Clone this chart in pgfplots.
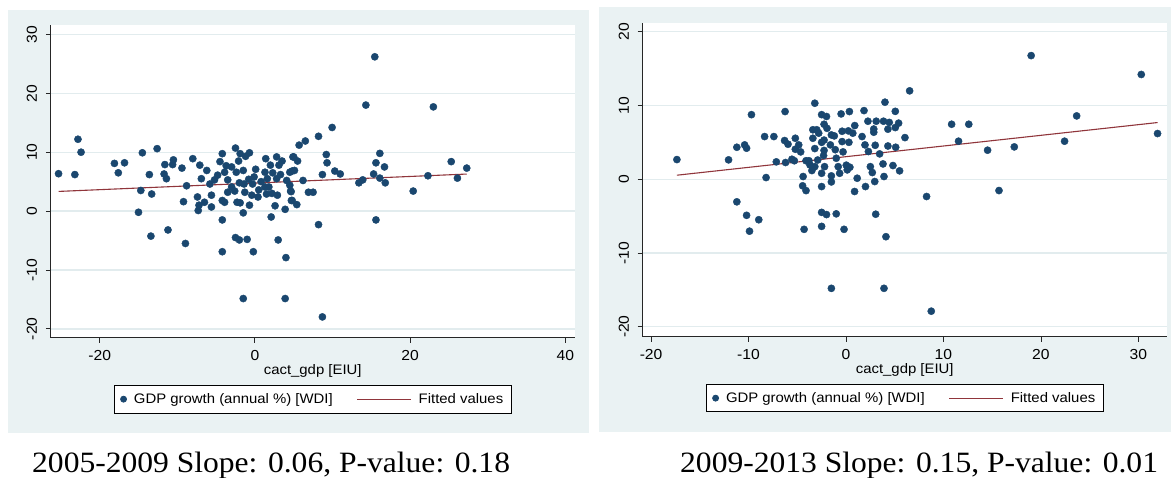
\documentclass[border=0pt]{standalone}
\usepackage{fontspec}
\setmainfont[FakeStretch=1.07]{Liberation Serif}
\newfontfamily\arial[FakeStretch=1.08]{Liberation Sans}
\usepackage{pgfplots}
\pgfplotsset{compat=1.18}
\usepackage{pgfplotstable}
\definecolor{stnavy}{RGB}{26,71,111}
\definecolor{stmaroon}{RGB}{144,53,59}
\definecolor{stbg}{RGB}{234,242,243}
\definecolor{stgrid}{RGB}{226,236,238}

\pgfplotstableread{
x y
-25.3 6.35
-23.2 6.2
-22.8 12.2
-22.4 10.0
-18.1 8.1
-16.8 8.2
-17.6 6.5
-14.5 9.9
-13.6 6.2
-14.7 3.5
-13.3 2.9
-12.6 10.6
-11.6 7.9
-10.5 8.7
-10.6 7.9
-11.7 6.3
-11.4 5.5
-9.4 7.3
-8.0 8.9
-7.1 7.8
-8.8 4.3
-9.2 1.6
-15.0 -0.2
-6.2 6.9
-6.9 5.5
-5.6 2.7
-7.4 2.4
-7.2 1.0
-7.3 0.1
-6.5 1.5
-5.6 0.7
-4.2 9.75
-4.5 8.4
-2.5 10.7
-1.9 9.75
-1.2 9.3
-0.7 9.9
-2.1 8.5
-3.7 7.7
-3.0 7.5
-3.9 6.6
-4.8 6.1
-5.2 5.3
-5.8 4.6
-3.5 5.3
-2.4 6.6
-1.5 6.9
0.1 7.1
-0.1 5.8
-3.0 4.1
-3.5 3.2
-2.6 3.4
-1.4 4.6
-1.3 3.2
-0.4 2.7
-2.3 1.5
-1.9 1.4
-0.7 1.0
-3.9 1.5
-4.2 1.8
-1.5 -0.3
-4.2 -1.5
1.4 8.9
2.8 9.2
3.5 8.5
3.1 7.8
4.9 9.2
2.0 7.8
1.3 6.6
2.3 6.5
1.6 5.5
2.8 5.5
1.3 4.1
1.8 4.1
1.5 2.9
2.9 2.7
4.7 1.8
2.6 0.9
3.9 0.3
2.1 -1.0
4.5 6.6
4.1 5.2
4.6 3.4
0.4 2.4
-0.8 5.4
0.8 5.0
-2.0 4.8
0.5 3.6
-0.3 4.6
3.3 6.2
2.2 3.0
15.45 26.2
14.3 18.0
23.0 17.7
9.95 14.2
8.2 12.7
6.5 11.9
5.7 11.2
5.0 9.2
5.5 8.5
4.8 6.8
5.1 6.9
9.2 9.6
9.3 8.2
8.7 6.2
10.3 6.8
11.0 6.3
6.2 5.2
4.5 4.4
4.67 3.3
6.9 3.2
7.5 3.2
4.8 1.8
5.4 1.1
13.4 4.8
13.9 5.3
15.3 6.3
16.1 5.6
16.8 4.8
15.6 8.2
16.1 9.8
16.7 7.5
20.4 3.4
22.3 6.0
25.3 8.4
26.1 5.6
27.3 7.3
15.6 -1.5
-13.4 -4.25
-11.2 -3.2
-8.95 -5.5
-4.2 -6.9
-2.5 -4.5
-2.0 -4.9
-1.0 -4.8
-0.2 -6.9
3.0 -4.9
4.0 -7.9
-1.5 -14.85
3.9 -14.85
8.2 -2.3
8.7 -17.97
}\leftdata

\pgfplotstableread{
x y
-25.3 3.34
27.3 6.29
}\leftfit

\pgfplotstableread{
x y
-17.35 2.66
-12.05 2.62
-11.2 4.33
-10.4 4.65
-10.2 4.2
-9.7 8.75
-8.35 5.78
-7.4 5.78
-7.15 2.35
-8.2 0.22
-11.2 -3.07
-10.2 -4.9
-8.95 -5.5
-9.9 -7.05
-6.25 9.17
-6.3 5.24
-5.95 4.74
-5.2 5.55
-5.2 4.06
-4.85 4.65
-4.65 3.7
-6.2 2.26
-5.55 2.7
-5.3 2.5
-4.4 0.36
-4.45 -0.9
-4.1 -1.55
-4.1 2.5
-3.7 1.94
-3.5 1.17
-3.8 2.5
-3.2 10.3
-3.4 6.7
-3.0 6.7
-2.8 6.24
-3.4 5.55
-3.2 4.15
-2.9 2.6
-3.2 1.7
-2.5 8.75
-2.0 8.5
-2.25 7.45
-1.95 6.9
-2.25 5.3
-2.5 5.0
-2.25 3.9
-2.3 3.2
-2.2 1.7
-2.5 0.8
-2.5 -1.0
-1.6 4.65
-1.5 6.0
-1.2 5.87
-1.1 4.0
-1.0 2.84
-1.5 0.45
-1.5 -0.37
-0.8 1.7
-0.65 0.8
-0.5 8.85
-0.4 6.5
-0.4 5.1
-0.3 3.7
0.35 9.17
0.24 6.55
0.3 5.0
0.03 1.9
0.4 1.62
0.13 1.26
0.9 7.27
0.7 6.24
1.15 0.13
0.88 -1.67
1.85 9.3
2.25 7.86
1.65 5.78
1.95 4.65
2.3 3.75
2.5 1.7
2.7 0.9
2.95 -0.32
2.0 -1.0
3.1 7.86
2.85 6.8
2.85 6.37
3.0 4.6
3.45 3.43
3.8 2.07
3.9 0.36
4.0 10.44
3.85 7.86
4.3 6.78
4.3 4.5
3.05 -4.75
4.1 -7.8
-1.5 -14.8
3.9 -14.8
-2.5 -4.5
-2.0 -4.8
-1.0 -4.7
-2.5 -6.4
-4.3 -6.8
-0.2 -6.8
19.0 16.76
30.3 14.2
6.53 11.98
5.06 9.2
4.44 7.7
5.4 7.6
5.06 7.0
6.05 5.64
5.1 4.33
4.82 1.85
5.5 1.13
8.27 -2.35
15.7 -1.54
8.75 -17.9
10.84 7.45
12.6 7.45
11.55 5.15
14.53 3.93
17.27 4.38
22.43 5.15
23.67 8.58
31.97 6.19
}\rightdata

\pgfplotstableread{
x y
-17.35 0.54
31.97 7.68
}\rightfit

\pgfplotsset{stata/.style={
  scale only axis, anchor=south west,
  axis x line*=bottom, axis y line*=left,
  axis line style={black!85, line width=1pt},
  axis background/.style={fill=white},
  ymajorgrids, grid style={stgrid, line width=1.3pt},
  tick align=outside, major tick length=5pt,
  tick style={black!85, line width=0.8pt},
  xticklabel style={font=\arial\fontsize{14.5}{16}\selectfont, yshift=-4.5pt},
  yticklabel style={font=\arial\fontsize{14.5}{16}\selectfont, rotate=90, anchor=south, inner ysep=8.5pt},
  xlabel style={font=\arial\fontsize{13.8}{16}\selectfont, yshift=3pt},
  xlabel={cact\_gdp [EIU]},
  legend columns=2,
  legend cell align=left,
  legend style={anchor=north, draw=black, line width=0.8pt, fill=white,
    font=\arial\fontsize{13.8}{16}\selectfont, inner xsep=6pt, inner ysep=6pt,
    /tikz/every odd column/.append style={column sep=5pt},
    /tikz/every even column/.append style={column sep=22pt}},
}}

\begin{document}
\begin{tikzpicture}
\useasboundingbox (0pt,0pt) rectangle (1171pt,-478pt);
\fill[white] (0pt,0pt) rectangle (1171pt,-478pt);
\fill[stbg] (7.5pt,-10pt) rectangle (589pt,-433pt);
\fill[stbg] (599.3pt,-6.7pt) rectangle (1171pt,-431.7pt);

\begin{axis}[stata,
  at={(50.8pt,-337.7pt)}, width=523.8pt, height=312.7pt,
  xmin=-26.3, xmax=41.2, ymin=-21.5, ymax=31.6,
  xtick={-20,0,20,40}, xticklabels={-20,0,20,40},
  ytick={-20,-10,0,10,20,30}, yticklabels={-20,-10,0,10,20,30},
  legend style={at={(0.5,-0.1513)}},
]
\addplot[only marks, mark=*, mark size=3.6pt, stnavy,
  legend image code/.code={\fill[stnavy] (0pt,0pt) circle (3pt);}] table {\leftdata};
\addlegendentry{GDP growth (annual \%) [WDI]}
\addplot[stmaroon, line width=1.1pt,
  legend image code/.code={\draw[stmaroon, line width=1pt] (0pt,0pt) -- (54pt,0pt);}] table {\leftfit};
\addlegendentry{Fitted values}
\end{axis}

\begin{axis}[stata,
  at={(642.6pt,-336.7pt)}, width=524.3pt, height=314pt,
  xmin=-20.87, xmax=32.93, ymin=-21.36, ymax=21.22,
  xtick={-20,-10,0,10,20,30}, xticklabels={-20,-10,0,10,20,30},
  ytick={-20,-10,0,10,20}, yticklabels={-20,-10,0,10,20},
  legend style={at={(0.5,-0.1506)}},
]
\addplot[only marks, mark=*, mark size=3.6pt, stnavy,
  legend image code/.code={\fill[stnavy] (0pt,0pt) circle (3pt);}] table {\rightdata};
\addlegendentry{GDP growth (annual \%) [WDI]}
\addplot[stmaroon, line width=1.1pt,
  legend image code/.code={\draw[stmaroon, line width=1pt] (0pt,0pt) -- (54pt,0pt);}] table {\rightfit};
\addlegendentry{Fitted values}
\end{axis}

\node[anchor=base west, inner sep=0pt, font=\fontsize{29.5}{34}\selectfont] at (32pt,-472.7pt) {2005-2009 Slope: 0.06, P-value: 0.18};
\node[anchor=base west, inner sep=0pt, font=\fontsize{29.5}{34}\selectfont] at (680pt,-472.7pt) {2009-2013 Slope: 0.15, P-value: 0.01};
\end{tikzpicture}
\end{document}
